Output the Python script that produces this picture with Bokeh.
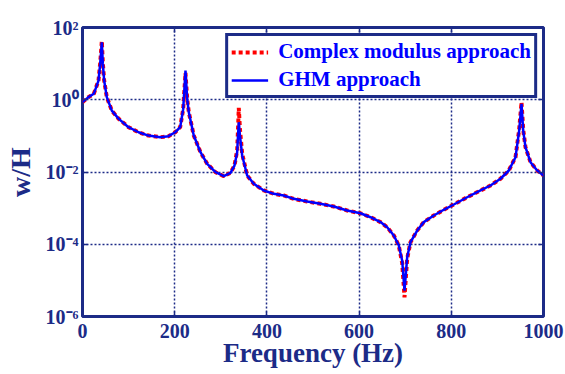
import math
from bokeh.plotting import figure
from bokeh.models import (Range1d, FixedTicker, Legend, LegendItem,
                          LinearAxis, LogAxis, ColumnDataSource, CustomJSTickFormatter)
from bokeh.embed import file_html
from bokeh.resources import INLINE

# ---- data ----
freq = [0, 13.0, 24.5, 34.7, 38.4, 41.9, 44.1, 47.0, 52.7, 63.6, 78.1, 99.8,
        121.5, 143.2, 168.5, 186.5, 201.1, 211.9, 218.4, 223.4, 227.1, 230.6,
        241.4, 255.9, 270.5, 288.5, 306.5, 321.0, 329.7, 335.5, 337.3, 339.0,
        341.6, 346.4, 357.2, 371.6, 393.3, 415.0, 436.6, 458.3, 487.4, 516.2,
        545.1, 574.2, 603.0, 624.7, 646.4, 660.9, 675.3, 686.1, 693.5, 698.5,
        704.3, 711.5, 726.0, 740.3, 762.0, 783.7, 805.4, 834.4, 863.3, 885.0,
        906.7, 924.7, 939.3, 947.2, 952.3, 956.0, 960.9, 971.8, 986.3, 1000]

ghm = [0.86, 1.18, 1.46, 3.4, 10.0, 39.0, 10.0, 3.4, 1.18, 0.50, 0.30, 0.174,
       0.126, 0.102, 0.092, 0.098, 0.126, 0.174, 0.55, 6.4, 1.06, 0.45,
       0.102, 0.0353, 0.0169, 0.00987, 0.00765, 0.0095, 0.0151, 0.0353, 0.10, 0.239,
       0.10, 0.0286, 0.0080, 0.00471, 0.00308, 0.00249, 0.00224, 0.00181, 0.00152, 0.00132,
       0.00111, 0.00086, 0.00072, 0.00056, 0.00041, 0.000296, 0.000175, 9.2e-5, 3.5e-5, 5.2e-6,
       4.4e-5, 1.14e-4, 2.4e-4, 4.1e-4, 6.25e-4, 9.0e-4, 0.00126, 0.0020, 0.00308, 0.00423,
       0.0065, 0.011, 0.0257, 0.14, 0.77, 0.14, 0.0486, 0.0187, 0.011, 0.0080]

complex_mod = [0.86, 1.18, 1.46, 3.4, 10.5, 42.0, 10.5, 3.4, 1.18, 0.50, 0.30, 0.174,
               0.126, 0.102, 0.092, 0.098, 0.126, 0.174, 0.55, 5.5, 1.06, 0.45,
               0.102, 0.0353, 0.0169, 0.00987, 0.00765, 0.0095, 0.0151, 0.04, 0.15, 0.60,
               0.15, 0.032, 0.0080, 0.00471, 0.00308, 0.00249, 0.00224, 0.00181, 0.00152, 0.00132,
               0.00111, 0.00086, 0.00072, 0.00056, 0.00041, 0.000296, 0.000175, 9.2e-5, 3.0e-5, 3.4e-6,
               4.0e-5, 1.14e-4, 2.4e-4, 4.1e-4, 6.25e-4, 9.0e-4, 0.00126, 0.0020, 0.00308, 0.00423,
               0.0065, 0.011, 0.0257, 0.15, 0.85, 0.15, 0.0486, 0.0187, 0.011, 0.0080]

xticks = [0, 200, 400, 600, 800, 1000]
yticks = [1e-6, 1e-4, 1e-2, 1e0, 1e2]
ytick_labels = ["10\u207b\u2076", "10\u207b\u2074", "10\u207b\u00b2", "10\u2070", "10\u00b2"]
series_names = ["Complex modulus approach", "GHM approach"]
x_title = "Frequency (Hz)"
y_title = "w/H"

NAVY = "#1c2b87"
FONT = "Liberation Serif"

src = ColumnDataSource(dict(f=freq, ghm=ghm, cm=complex_mod))

p = figure(frame_width=461, frame_height=289,
           x_range=Range1d(0, 1000), y_range=Range1d(1e-6, 1e2),
           y_axis_type="log", output_backend="svg", toolbar_location=None,
           min_border_left=82, min_border_right=22, min_border_top=27,
           min_border_bottom=58, background_fill_color="white",
           border_fill_color="white")

p.outline_line_color = NAVY
p.outline_line_width = 3

r_cm = p.line("f", "cm", source=src, line_color="#ff0000", line_width=4,
              line_dash="4 3")
r_ghm = p.line("f", "ghm", source=src, line_color="#0000ff", line_width=2.5)

# axes
p.xaxis.ticker = FixedTicker(ticks=xticks)
p.yaxis.ticker = FixedTicker(ticks=yticks)
for ax in (p.xaxis[0], p.yaxis[0]):
    ax.axis_line_color = None
    ax.major_tick_in = 5
    ax.major_tick_out = 0
    ax.major_tick_line_color = NAVY
    ax.major_tick_line_width = 1.5
    ax.minor_tick_line_color = None
    ax.major_label_text_font = FONT
    ax.major_label_text_font_style = "bold"
    ax.major_label_text_font_size = "20px"
    ax.major_label_text_color = NAVY
    ax.axis_label_text_font = FONT
    ax.axis_label_text_font_style = "bold"
    ax.axis_label_text_color = NAVY
p.xaxis.major_label_standoff = 7
p.yaxis.major_label_standoff = 4
p.yaxis.major_label_overrides = dict(zip(yticks, ytick_labels))
p.xaxis.axis_label = x_title
p.xaxis.axis_label_text_font_size = "27px"
p.xaxis.axis_label_standoff = -3
p.yaxis.axis_label = y_title
p.yaxis.axis_label_text_font_size = "28px"
p.yaxis.axis_label_standoff = 7

top_ax = LinearAxis(ticker=FixedTicker(ticks=xticks), axis_line_color=None,
                    major_tick_in=5, major_tick_out=0, major_tick_line_color=NAVY,
                    major_tick_line_width=1.5, minor_tick_line_color=None,
                    formatter=CustomJSTickFormatter(code="return ' ';"),
                    major_label_standoff=0)
p.add_layout(top_ax, "above")
right_ax = LogAxis(ticker=FixedTicker(ticks=yticks), axis_line_color=None,
                   major_tick_in=5, major_tick_out=0, major_tick_line_color=NAVY,
                   major_tick_line_width=1.5, minor_tick_line_color=None,
                   formatter=CustomJSTickFormatter(code="return ' ';"),
                   major_label_standoff=0)
p.add_layout(right_ax, "right")

# grid
for g in (p.xgrid[0], p.ygrid[0]):
    g.grid_line_color = NAVY
    g.grid_line_dash = "2 2"
    g.grid_line_width = 1.5
    g.grid_line_alpha = 1.0

legend = Legend(items=[LegendItem(label=series_names[0], renderers=[r_cm]),
                       LegendItem(label=series_names[1], renderers=[r_ghm])],
                location="top_right", margin=6, padding=3, spacing=3,
                glyph_width=37, glyph_height=20, label_height=20,
                label_standoff=10,
                label_text_font=FONT, label_text_font_style="bold",
                label_text_font_size="21px", label_text_color="#0000ff",
                border_line_color=NAVY, border_line_width=3, border_line_alpha=1.0,
                background_fill_color="white", background_fill_alpha=1.0)
p.add_layout(legend, "center")

open("out.html", "w").write(file_html(p, INLINE))
